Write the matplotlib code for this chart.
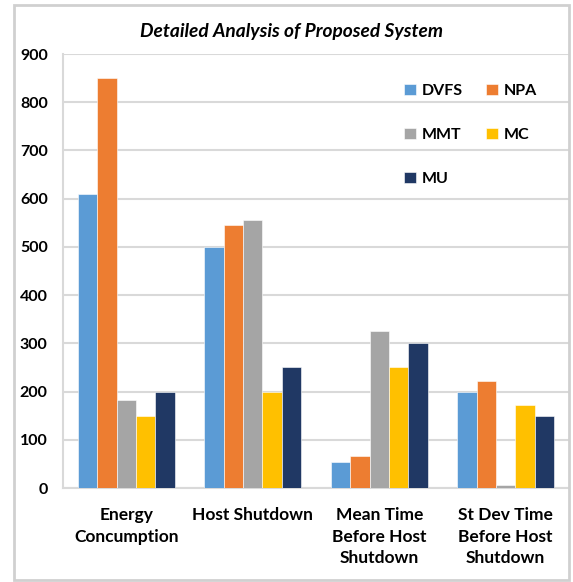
import numpy as np
import matplotlib.pyplot as plt
from matplotlib.patches import Rectangle

categories = ["Energy\nConcumption", "Host Shutdown", "Mean Time\nBefore Host\nShutdown",
              "St Dev Time\nBefore Host\nShutdown"]
series = ["DVFS", "NPA", "MMT", "MC", "MU"]
dvfs = [610, 500, 53, 200]
npa = [850, 545, 66, 222]
mmt = [182, 555, 325, 6]
mc = [150, 200, 250, 173]
mu = [200, 250, 300, 150]
values = [dvfs, npa, mmt, mc, mu]
colors = ["#5B9BD5", "#ED7D31", "#A5A5A5", "#FFC000", "#203864"]

plt.rcParams['font.family'] = ['Lato', 'DejaVu Sans']

fig = plt.figure(figsize=(5.73, 5.82), dpi=100)
ax = fig.add_axes([63 / 573, 1 - 488 / 582, (569 - 63) / 573, (488 - 54) / 582])

x = np.arange(len(categories))
width = 0.153
bars = []
for i, (name, vals) in enumerate(zip(series, values)):
    b = ax.bar(x + (i - 2) * width, vals, width, color=colors[i], label=name,
               edgecolor="white", linewidth=0.4, zorder=3)
    bars.append(b)

ax.set_xlim(-0.5, 3.5)
ax.set_ylim(0, 900)
ax.set_yticks(range(0, 901, 100))
ax.set_xticks(x)
ax.set_xticklabels(categories, fontsize=12.5, fontweight='bold')
for lab in ax.get_xticklabels():
    lab.set_linespacing(1.42)
ax.tick_params(axis='y', length=0, pad=11, labelsize=11.5)
ax.tick_params(axis='x', length=0, pad=14)
for lab in ax.get_yticklabels():
    lab.set_fontweight('bold')
ax.grid(axis='y', color="#D9D9D9", linewidth=1.5, zorder=0)
for s in ['top', 'right']:
    ax.spines[s].set_visible(False)
for s in ['left', 'bottom']:
    ax.spines[s].set_color("#D9D9D9")
    ax.spines[s].set_linewidth(1.5)

# legend filled row-wise: DVFS NPA / MMT MC / MU
order = [0, 2, 4, 1, 3]
leg = ax.legend([bars[i] for i in order], [series[i] for i in order], ncol=2,
                loc='upper left', bbox_to_anchor=(0.645, 0.965), frameon=False,
                prop={'weight': 'bold', 'size': 11.5}, handlelength=0.75,
                handleheight=0.75, handletextpad=0.35, labelspacing=1.85,
                columnspacing=1.5)

fig.text(291 / 573, 1 - 32 / 582, "Detailed Analysis of Proposed System",
         ha='center', va='center', fontsize=13.8, fontweight='bold', style='italic')

fig.patches.append(Rectangle((14 / 573, 2 / 582), (569 - 14) / 573, (577 - 2) / 582,
                             transform=fig.transFigure, fill=False,
                             edgecolor="#D0D0D0", linewidth=2))

fig.savefig("out.png", dpi=100)
